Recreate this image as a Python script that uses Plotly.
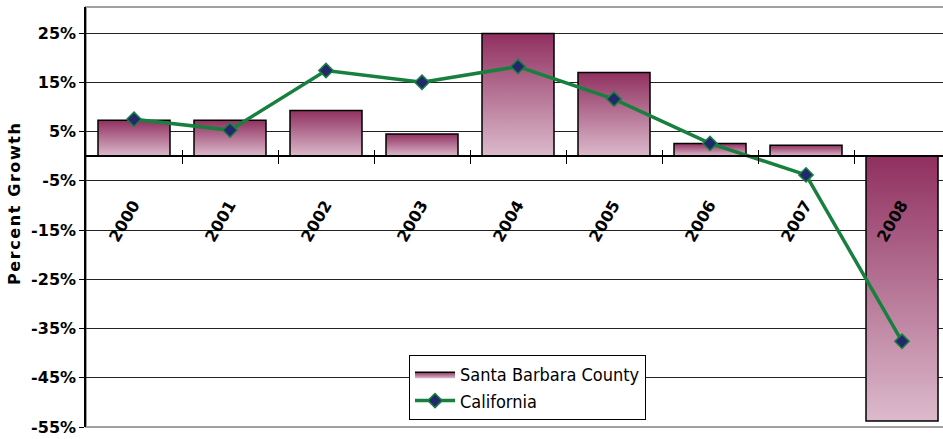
import plotly.graph_objects as go

years = ["2000", "2001", "2002", "2003", "2004", "2005", "2006", "2007", "2008"]
santa_barbara = [7.3, 7.3, 9.3, 4.5, 24.9, 17.0, 2.6, 2.2, -53.8]
california = [7.5, 5.3, 17.4, 15.0, 18.2, 11.6, 2.6, -3.8, -37.6]
y_tick_vals = [-55, -45, -35, -25, -15, -5, 5, 15, 25]
y_tick_text = ["-55%", "-45%", "-35%", "-25%", "-15%", "-5%", "5%", "15%", "25%"]

Y_MIN, Y_MAX = -55, 30.3
X_MIN, X_MAX = -0.5, 8.427
HALF = 0.375
DARK = "#903060"
LIGHT = "#DCBACC"
TICK_FONT = dict(family="DejaVu Sans", size=16, color="black", weight="bold")
LEG_FONT = dict(family="Liberation Sans Narrow, DejaVu Sans Condensed, Liberation Sans", size=18, color="black")

xs = list(range(len(years)))
fig = go.Figure()

for i, v in enumerate(santa_barbara):
    fig.add_trace(go.Scatter(
        x=[i - HALF, i + HALF, i + HALF, i - HALF, i - HALF],
        y=[0, 0, v, v, 0],
        mode="lines",
        fill="toself",
        fillgradient=dict(type="vertical", colorscale=[[0, LIGHT], [1, DARK]]),
        line=dict(color="black", width=1.5),
        name="Santa Barbara County",
        legendgroup="sb",
        showlegend=(i == 0),
        hoverinfo="skip",
    ))

fig.add_trace(go.Scatter(
    x=xs, y=california, mode="lines+markers", name="California",
    line=dict(color="#17803F", width=3.5),
    marker=dict(symbol="diamond", size=11, color="#22286B", line=dict(color="#17803F", width=1.5)),
))

for i, yr in enumerate(years):
    fig.add_annotation(x=i, y=-13.2, xref="x", yref="y", text="<b>%s</b>" % yr,
                       showarrow=False, textangle=-60, xshift=-10,
                       font=dict(family="DejaVu Sans", size=16, color="black"))

fig.add_annotation(x=(14 - 86) / 857, y=(427 - 204) / 420, xref="paper", yref="paper",
                   xanchor="center", yanchor="middle",
                   text="<b>P\u200ae\u200ar\u200ac\u200ae\u200an\u200at\u200a \u200aG\u200ar\u200ao\u200aw\u200at\u200ah</b>",
                   showarrow=False, textangle=-90,
                   font=dict(family="DejaVu Sans", size=16, color="black"))

zero_pos = (0 - Y_MIN) / (Y_MAX - Y_MIN)
mid_ticks = [i + 0.5 for i in range(len(years) - 1)]

fig.add_shape(type="rect", xref="paper", yref="paper", x0=0, x1=1.02, y0=0, y1=1,
              line=dict(color="#A0A0A0", width=2), layer="below")

fig.update_layout(
    width=943, height=439,
    margin=dict(l=86, r=0, t=7, b=12),
    paper_bgcolor="white", plot_bgcolor="white",
    showlegend=True,
    legend=dict(x=(409 - 86) / 857, y=(427 - 355) / 420, xanchor="left", yanchor="top",
                bgcolor="white", bordercolor="black", borderwidth=1,
                font=LEG_FONT, tracegroupgap=0, itemwidth=40),
    xaxis=dict(range=[X_MIN, X_MAX], showgrid=False, showticklabels=False, zeroline=False,
               showline=False, ticks=""),
    xaxis2=dict(range=[X_MIN, X_MAX], overlaying="x", anchor="free", position=zero_pos,
                tickvals=mid_ticks, ticks="outside", ticklen=7, tickcolor="black", tickwidth=1,
                showticklabels=False, showline=True, linecolor="black", linewidth=1.5,
                showgrid=False, zeroline=False),
    xaxis3=dict(range=[X_MIN, X_MAX], overlaying="x", anchor="free", position=zero_pos,
                tickvals=mid_ticks, ticks="inside", ticklen=6, tickcolor="black", tickwidth=1,
                showticklabels=False, showline=False, showgrid=False, zeroline=False),
    yaxis=dict(range=[Y_MIN, Y_MAX], tickvals=y_tick_vals, ticktext=y_tick_text,
               tickfont=TICK_FONT, ticks="outside", ticklen=5, tickcolor="black",
               showgrid=True, gridcolor="#222222", gridwidth=1, zeroline=False,
               showline=True, linecolor="black", linewidth=1.5),
)
fig.add_trace(go.Scatter(x=[X_MIN], y=[0], xaxis="x2", mode="markers", marker=dict(opacity=0), showlegend=False, hoverinfo="skip"))
fig.add_trace(go.Scatter(x=[X_MIN], y=[0], xaxis="x3", mode="markers", marker=dict(opacity=0), showlegend=False, hoverinfo="skip"))

fig.write_html("out.html", config={"displayModeBar": False},
               post_script="document.body.style.margin='0';document.body.style.overflow='hidden';")
